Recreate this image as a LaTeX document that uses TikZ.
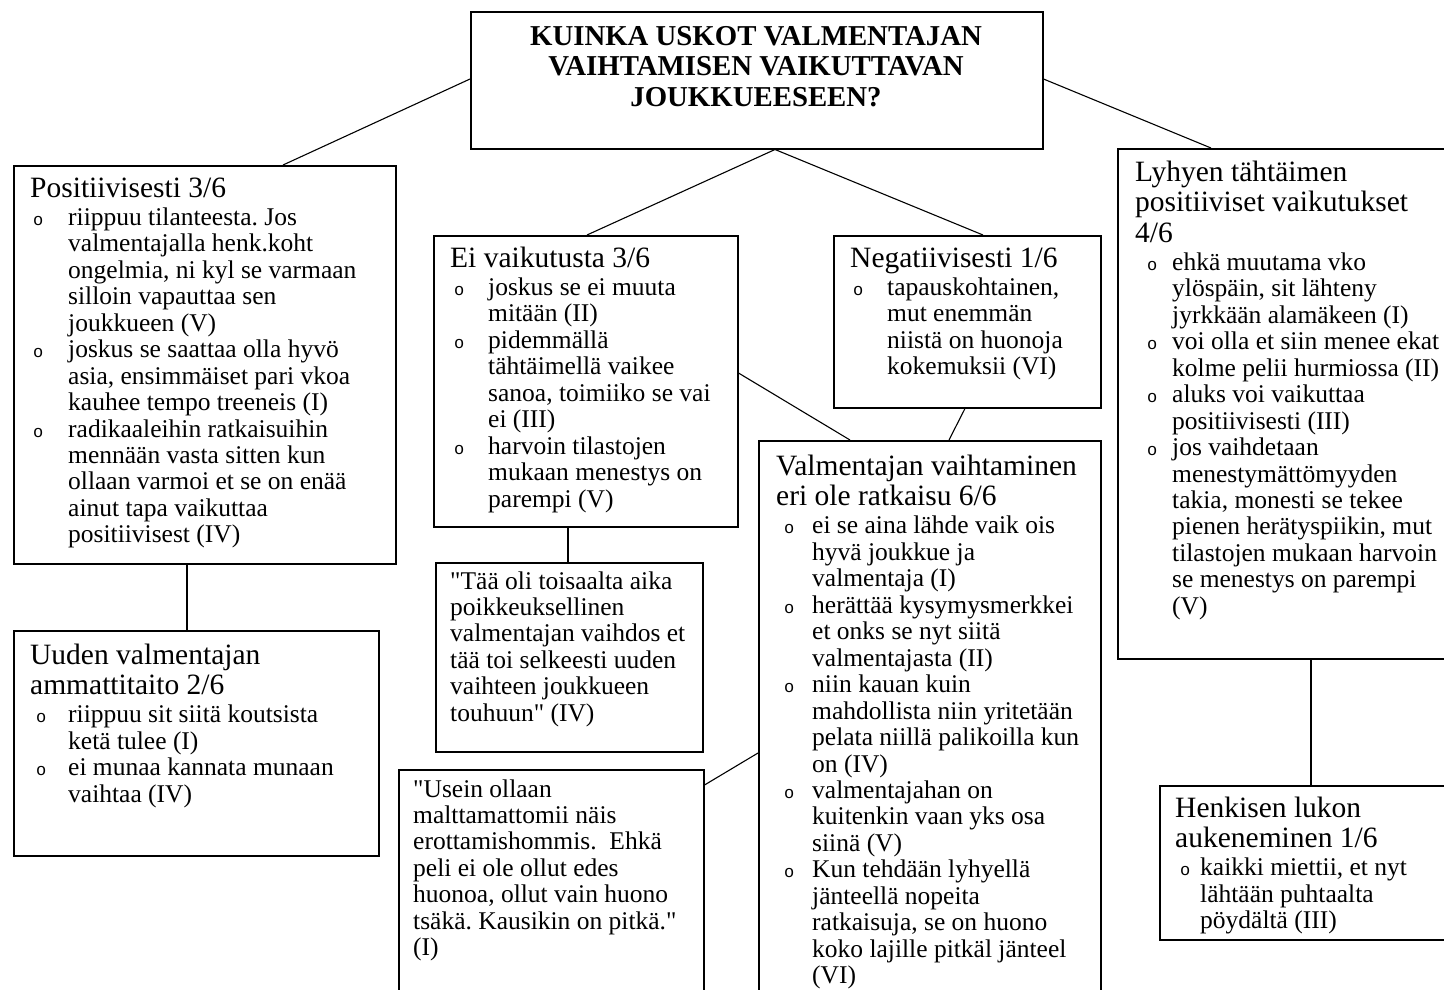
\documentclass[tikz,border=0pt]{standalone}
\usepackage{fontspec}
\setmainfont{Liberation Serif}
\newfontfamily\bulletfont{Liberation Mono}
\newfontfamily\plainquote{Liberation Serif}[Ligatures=TeXOff]
\usetikzlibrary{calc}

\setlength\parindent{0pt}
\frenchspacing
\newlength\bulx
\newlength\txtx
\newcommand{\hdfont}{\fontsize{29.5pt}{30.5pt}\selectfont}
\newcommand{\bdfont}{\fontsize{25.5pt}{26.45pt}\selectfont}
\newcommand{\dq}{{\plainquote\symbol{34}}}
% one bullet item with hanging indent; lines are broken with \newline
\newcommand{\bulletitem}[1]{\par\hangindent=\txtx\hangafter=1\noindent
  \makebox[\txtx][l]{\hspace*{\bulx}{\bulletfont\fontsize{17pt}{17pt}\selectfont o}}#1}
% heading followed by bullet items: #1 bullet offset, #2 text offset
\newcommand{\boxtext}[4]{\parbox[t]{420pt}{\frenchspacing\setlength\bulx{#1}\setlength\txtx{#2}%
  {\hdfont #3\par}\vspace{2pt}\bdfont #4\par}}
\newcommand{\quotetext}[1]{\parbox[t]{420pt}{\frenchspacing\bdfont #1\par}}

\begin{document}
\begin{tikzpicture}[x=1pt,y=-1pt,
  box/.style={draw, line width=1.5pt, inner sep=0pt, anchor=north west},
  link/.style={line width=1.1pt},
  txt/.style={anchor=base west, inner sep=0pt}]
\useasboundingbox (0,0) rectangle (1444,989);
\fill[white] (0,0) rectangle (1444,989);
\begin{scope}
\clip (0,0) rectangle (1444,989);

% boxes
\node[box, minimum width=572pt, minimum height=137pt] (title) at (470,11) {};
\node[box, minimum width=382pt, minimum height=398pt] (pos) at (13,165) {};
\node[box, minimum width=365pt, minimum height=225pt] (uud) at (13,630) {};
\node[box, minimum width=304pt, minimum height=291pt] (ei) at (433,235) {};
\node[box, minimum width=267pt, minimum height=172pt] (neg) at (833,235) {};
\node[box, minimum width=267pt, minimum height=189pt] (tai) at (435,562) {};
\node[box, minimum width=305pt, minimum height=260pt] (use) at (398,769) {};
\node[box, minimum width=342pt, minimum height=580pt] (val) at (758,440) {};
\node[box, minimum width=360pt, minimum height=510pt] (lyh) at (1117,148) {};
\node[box, minimum width=300pt, minimum height=154pt] (hen) at (1159,785) {};

% connectors
\draw[link] ($(title.north west)+(0,68)$) -- ($(pos.north west)+(270,0)$);
\draw[link] ($(title.south west)+(305,0)$) -- ($(ei.north west)+(154,0)$);
\draw[link] ($(title.south west)+(305,0)$) -- ($(neg.north west)+(150,0)$);
\draw[link] ($(title.north east)+(0,68)$) -- ($(lyh.north west)+(94,0)$);
\draw[link] ($(pos.south west)+(174,0)$) -- ($(uud.north west)+(174,0)$);
\draw[link] ($(ei.north east)+(0,138)$) -- ($(val.north west)+(92,0)$);
\draw[link] ($(neg.south west)+(132,0)$) -- ($(val.north west)+(191,0)$);
\draw[link] ($(ei.south west)+(135,0)$) -- ($(tai.north west)+(133,0)$);
\draw[link] ($(use.north east)+(0,16)$) -- ($(val.north west)+(0,313)$);
\draw[link] ($(lyh.south west)+(194,0)$) -- ($(hen.north west)+(152,0)$);

% texts
\node[anchor=base, inner sep=0pt] (titleT) at (756,45)
  {\parbox[t]{560pt}{\centering\bfseries\fontsize{28.8pt}{30.8pt}\selectfont
   KUINKA USKOT VALMENTAJAN\\VAIHTAMISEN VAIKUTTAVAN\\JOUKKUEESEEN?}};

\node[txt] (posT) at (30,197) {\boxtext{3pt}{38pt}{Positiivisesti 3/6}{%
  \bulletitem{riippuu tilanteesta. Jos\newline valmentajalla henk.koht\newline
    ongelmia, ni kyl se varmaan\newline silloin vapauttaa sen\newline joukkueen (V)}%
  \bulletitem{joskus se saattaa olla hyvö\newline asia, ensimmäiset pari vkoa\newline
    kauhee tempo treeneis (I)}%
  \bulletitem{radikaaleihin ratkaisuihin\newline mennään vasta sitten kun\newline
    ollaan varmoi et se on enää\newline ainut tapa vaikuttaa\newline positiivisest (IV)}}};

\node[txt] (uudT) at (30,664) {\boxtext{6pt}{38pt}{Uuden valmentajan\newline ammattitaito 2/6}{%
  \bulletitem{riippuu sit siitä koutsista\newline ketä tulee (I)}%
  \bulletitem{ei munaa kannata munaan\newline vaihtaa (IV)}}};

\node[txt] (eiT) at (450,267) {\boxtext{4pt}{38pt}{Ei vaikutusta 3/6}{%
  \bulletitem{joskus se ei muuta\newline mitään (II)}%
  \bulletitem{pidemmällä\newline tähtäimellä vaikee\newline sanoa, toimiiko se vai\newline ei (III)}%
  \bulletitem{harvoin tilastojen\newline mukaan menestys on\newline parempi (V)}}};

\node[txt] (negT) at (850,267) {\boxtext{3pt}{37pt}{Negatiivisesti 1/6}{%
  \bulletitem{tapauskohtainen,\newline mut enemmän\newline niistä on huonoja\newline kokemuksii (VI)}}};

\node[txt] (taiT) at (450,589) {\quotetext{\dq Tää oli toisaalta aika\\ poikkeuksellinen\\
  valmentajan vaihdos et\\ tää toi selkeesti uuden\\ vaihteen joukkueen\\ touhuun\dq{} (IV)}};

\node[txt] (useT) at (413,797) {\quotetext{\dq Usein ollaan\\ malttamattomii näis\\
  erottamishommis.~ Ehkä\\ peli ei ole ollut edes\\ huonoa, ollut vain huono\\
  tsäkä. Kausikin on pitkä.\dq\\ (I)}};

\node[txt] (valT) at (776,475) {\boxtext{8pt}{36pt}{Valmentajan vaihtaminen\newline eri ole ratkaisu 6/6}{%
  \bulletitem{ei se aina lähde vaik ois\newline hyvä joukkue ja\newline valmentaja (I)}%
  \bulletitem{herättää kysymysmerkkei\newline et onks se nyt siitä\newline valmentajasta (II)}%
  \bulletitem{niin kauan kuin\newline mahdollista niin yritetään\newline
    pelata niillä palikoilla kun\newline on (IV)}%
  \bulletitem{valmentajahan on\newline kuitenkin vaan yks osa\newline siinä (V)}%
  \bulletitem{Kun tehdään lyhyellä\newline jänteellä nopeita\newline ratkaisuja, se on huono\newline
    koko lajille pitkäl jänteel\newline (VI)}}};

\node[txt] (lyhT) at (1135,181) {\boxtext{12pt}{37pt}{Lyhyen tähtäimen\newline positiiviset vaikutukset\newline 4/6}{%
  \bulletitem{ehkä muutama vko\newline ylöspäin, sit lähteny\newline jyrkkään alamäkeen (I)}%
  \bulletitem{voi olla et siin menee ekat\newline kolme pelii hurmiossa (II)}%
  \bulletitem{aluks voi vaikuttaa\newline positiivisesti (III)}%
  \bulletitem{jos vaihdetaan\newline menestymättömyyden\newline takia, monesti se tekee\newline
    pienen herätyspiikin, mut\newline tilastojen mukaan harvoin\newline se menestys on parempi\newline (V)}}};

\node[txt] (henT) at (1175,817) {\boxtext{5pt}{25pt}{Henkisen lukon\newline aukeneminen 1/6}{%
  \bulletitem{kaikki miettii, et nyt\newline lähtään puhtaalta\newline pöydältä (III)}}};
\end{scope}
\end{tikzpicture}
\end{document}
